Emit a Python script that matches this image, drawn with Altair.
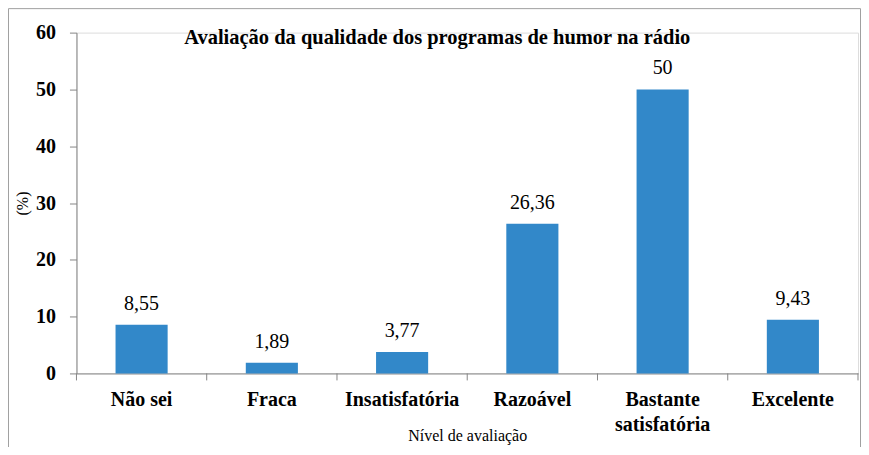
import altair as alt
import pandas as pd

categories = ["Não sei", "Fraca", "Insatisfatória", "Razoável", "Bastante satisfatória", "Excelente"]
values = [8.55, 1.89, 3.77, 26.36, 50, 9.43]
value_labels = ["8,55", "1,89", "3,77", "26,36", "50", "9,43"]
y_ticks = [0, 10, 20, 30, 40, 50, 60]
chart_title = "Avaliação da qualidade dos programas de humor na rádio"
x_title = "Nível de avaliação"
y_title = "(%)"

df = pd.DataFrame({"cat": categories, "val": values, "lab": value_labels})

W, H = 782, 341
FONT = "Liberation Serif"
BLUE = "#3288C9"
GRAY = "#868686"

x_scale = alt.Scale(domain=categories, paddingInner=0, paddingOuter=0)
y_scale = alt.Scale(domain=[0, 60], nice=False)

x_axis = alt.Axis(
    title=x_title, labelAngle=0, ticks=False, tickSize=0,
    labelExpr="datum.label == 'Bastante satisfatória' ? ['Bastante', 'satisfatória'] : datum.label",
    labelFont=FONT, labelFontSize=20, labelFontWeight="bold", labelColor="black",
    labelPadding=16, labelLineHeight=25, labelBaseline="top",
    titleFont=FONT, titleFontSize=16, titleFontWeight="normal", titleColor="black",
    titleY=67, titleBaseline="alphabetic", domainColor=GRAY,
)
y_axis = alt.Axis(
    values=y_ticks, title=y_title, grid=False,
    labelFont=FONT, labelFontSize=20, labelFontWeight="bold", labelColor="black",
    labelPadding=14, tickSize=7, tickColor=GRAY, domainColor=GRAY,
    titleFont=FONT, titleFontSize=16, titleFontWeight="normal", titleColor="black",
    titlePadding=5,
)

base = alt.Chart(df)

bars = base.mark_bar(color=BLUE, width=alt.RelativeBandSize(0.4)).encode(
    x=alt.X("cat:N", scale=x_scale, sort=categories, axis=x_axis),
    y=alt.Y("val:Q", scale=y_scale, axis=y_axis),
)

labels = base.mark_text(font=FONT, fontSize=20, color="black", baseline="alphabetic", dy=-15).encode(
    x=alt.X("cat:N", scale=x_scale, sort=categories, title=x_title),
    y=alt.Y("val:Q", scale=y_scale, title=y_title),
    text="lab:N",
)

ticks_left = base.mark_rule(color=GRAY).encode(
    x=alt.X("cat:N", scale=x_scale, sort=categories, bandPosition=0, title=x_title),
    y=alt.value(H),
    y2=alt.value(H + 7),
)

ticks_right = alt.Chart(pd.DataFrame({"cat": [categories[-1]]})).mark_rule(color=GRAY).encode(
    x=alt.X("cat:N", scale=x_scale, sort=categories, bandPosition=1, title=x_title),
    y=alt.value(H),
    y2=alt.value(H + 7),
)

title_mark = alt.Chart(pd.DataFrame({"t": [chart_title]})).mark_text(
    font=FONT, fontSize=20.5, fontWeight="bold", color="black", baseline="middle", align="center"
).encode(x=alt.value(361), y=alt.value(5.5), text="t:N")

frame = alt.Chart(pd.DataFrame({"f": [0]})).mark_rect(
    fillOpacity=0, stroke="#A0A0A0", strokeWidth=1
).encode(x=alt.value(-68), x2=alt.value(W + 2.5), y=alt.value(-24), y2=alt.value(520))

chart = alt.layer(frame, bars, labels, ticks_left, ticks_right, title_mark).properties(
    width=W, height=H,
    autosize=alt.AutoSizeParams(type="none"),
    padding={"left": 68.5, "top": 24.5, "right": 3, "bottom": 73.5},
).configure_view(stroke=None).configure(background="white")

chart.save("out.html", embed_options={"renderer": "svg", "actions": False})
